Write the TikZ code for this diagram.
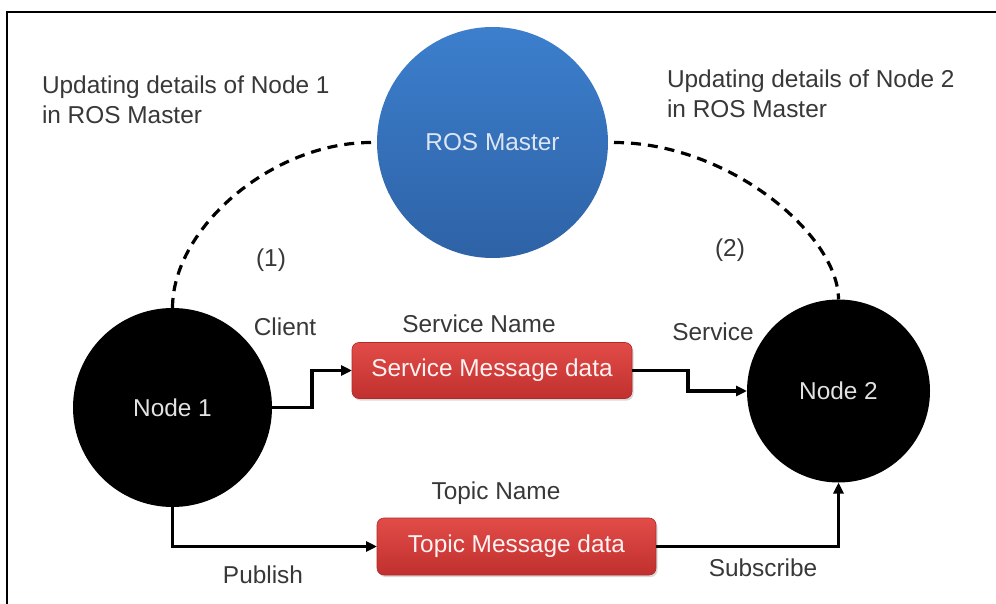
\documentclass[tikz,border=0pt]{standalone}
\usepackage{fontspec}
\setmainfont{Liberation Sans}
\usetikzlibrary{arrows.meta,shadows}
\definecolor{txtgray}{HTML}{383838}
\definecolor{bluetop}{HTML}{3C7FCD}
\definecolor{bluebot}{HTML}{2E62A6}
\definecolor{redtop}{HTML}{E24C48}
\definecolor{redbot}{HTML}{C0302E}
\definecolor{redline}{HTML}{B02A28}
\definecolor{lighttxt}{HTML}{E2E2E2}
\definecolor{bluetxt}{HTML}{DCE6F3}
\begin{document}
\begin{tikzpicture}[x=1pt,y=-1pt,
  every node/.style={inner sep=0pt, outer sep=0pt},
  bigfont/.style={font=\fontsize{24.4}{30}\selectfont},
  lbl/.style={bigfont, text=txtgray, anchor=base},
  hdr/.style={bigfont, text=txtgray, anchor=north west, align=left},
  master/.style={circle, minimum size=231pt, top color=bluetop, bottom color=bluebot, text=bluetxt, bigfont},
  blacknode/.style={circle, fill=black, text=lighttxt, bigfont},
  msgbox/.style={rectangle, rounded corners=7pt, minimum width=280pt, minimum height=56pt,
     top color=redtop, bottom color=redbot, draw=redline, line width=0.6pt, text=white!95!red, bigfont,
     drop shadow={shadow xshift=1.5pt, shadow yshift=-2pt, opacity=0.3}},
  conn/.style={line width=3.2pt, -{Triangle[length=11pt,width=10pt]}},
  dashconn/.style={line width=3.2pt, dash pattern=on 10pt off 7pt}
]
\useasboundingbox (0,0) rectangle (996,604);
\fill[white] (0,0) rectangle (996,604);
\draw[line width=2pt] (7,604) -- (7,12) -- (996,12);

% nodes
\node[master] (ros) at (492.5,142.5) {ROS Master};
\node[blacknode, minimum size=199pt] (n1) at (172.5,407.5) {Node 1};
\node[blacknode, minimum size=183pt] (n2) at (838.5,391) {Node 2};
\node[msgbox] (svc) at (492,370.5) {Service Message data};
\node[msgbox, minimum width=279pt, minimum height=57pt] (topic) at (516.5,546.5) {Topic Message data};

% headers
\node[hdr] (h1) at (42,76) {Updating details of Node 1\\in ROS Master};
\node[hdr] (h2) at (667,70) {Updating details of Node 2\\in ROS Master};

% labels
\node[lbl] (l1) at (271,266) {(1)};
\node[lbl] (l2) at (730,257) {(2)};
\node[lbl] (client) at (285,335) {Client};
\node[lbl] (svcname) at (479,332) {Service Name};
\node[lbl] (service) at (713,340) {Service};
\node[lbl] (topicname) at (496,499) {Topic Name};
\node[lbl] (publish) at (263,583) {Publish};
\node[lbl] (subscribe) at (763,576) {Subscribe};

% dashed links to master
\draw[dashconn, shorten >=6pt] (n1.north) .. controls +(0,-80) and +(-105,0) .. (ros.west);
\draw[dashconn, shorten <=6pt] (ros.east) .. controls +(120,0) and +(0,-65) .. (n2.north);

% message connectors
\draw[conn] (n1.east) -- ++(40,0) |- (svc.west);
\draw[conn] (svc.east) -- ++(56,0) |- (n2.west);
\draw[conn] (n1.south) |- (topic.west);
\draw[conn] (topic.east) -| (n2.south);
\end{tikzpicture}
\end{document}
